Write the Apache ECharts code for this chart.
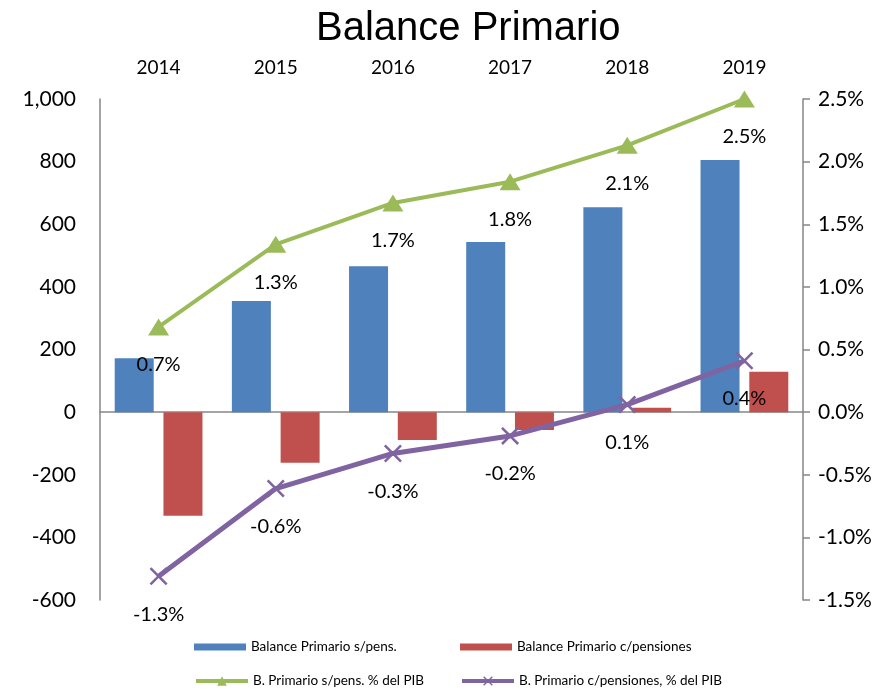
<!DOCTYPE html>
<html>
<head>
<meta charset="utf-8">
<script src="https://cdn.jsdelivr.net/npm/echarts@6/dist/echarts.min.js"></script>
<style>
  html, body { margin: 0; padding: 0; background: #fff; }
  #chart { width: 891px; height: 689px; }
</style>
</head>
<body>
<div id="chart"></div>
<script>
// data
const years = ['2014', '2015', '2016', '2017', '2018', '2019'];
const sinPens = [172, 355, 466, 543, 654, 805];
const conPens = [-331, -162, -89, -57, 14, 129];
const sinPensPib = [0.68, 1.34, 1.67, 1.84, 2.13, 2.5];
const conPensPib = [-1.31, -0.61, -0.33, -0.19, 0.06, 0.41];

const colorCodes = ['#4F81BD', '#C0504D', '#9BBB59', '#8064A2', '#868686'];
const font = 'Lato, "Open Sans", sans-serif';
const crossPath = 'path://M0,1 L1,0 L5,4 L9,0 L10,1 L6,5 L10,9 L9,10 L5,6 L1,10 L0,9 L4,5 Z';

const chart = echarts.init(document.getElementById('chart'));

const pctLabel = {
  show: true,
  position: 'inside',
  offset: [0, 38],
  color: '#000',
  fontFamily: font,
  fontSize: 20,
  formatter: (p) => p.value.toFixed(1) + '%'
};

const legendBase = {
  padding: 0,
  itemWidth: 52,
  itemHeight: 7,
  itemGap: 5,
  textStyle: { fontFamily: font, fontSize: 13.5, color: '#000' }
};

chart.setOption({
  animation: false,
  color: colorCodes,
  title: {
    text: 'Balance Primario',
    left: 316,
    top: 9,
    padding: 0,
    textStyle: {
      fontFamily: '"Liberation Sans", Arial, sans-serif',
      fontSize: 40,
      fontWeight: 'normal',
      color: '#000'
    }
  },
  legend: [
    Object.assign({}, legendBase, { left: 194, top: 640, data: [{ name: 'Balance Primario s/pens.', icon: 'rect' }] }),
    Object.assign({}, legendBase, { left: 460, top: 640, data: [{ name: 'Balance Primario c/pensiones', icon: 'rect' }] }),
    Object.assign({}, legendBase, { left: 194, top: 674, itemHeight: 12, lineStyle: { width: 4 }, data: ['B. Primario s/pens. % del PIB'] }),
    Object.assign({}, legendBase, { left: 460, top: 674, itemHeight: 12, lineStyle: { width: 4 }, data: ['B. Primario c/pensiones, % del PIB'] })
  ],
  grid: {
    left: 100,
    right: 88,
    top: 99,
    bottom: 89
  },
  xAxis: [
    {
      type: 'category',
      data: years,
      position: 'bottom',
      axisLine: { onZero: true, lineStyle: { color: colorCodes[4], width: 1.5 } },
      axisTick: { show: false },
      axisLabel: { show: false }
    },
    {
      type: 'category',
      data: years,
      position: 'top',
      axisLine: { show: false },
      axisTick: { show: false },
      axisLabel: { margin: 22, color: '#000', fontFamily: font, fontSize: 19 }
    }
  ],
  yAxis: [
    {
      type: 'value',
      min: -600,
      max: 1000,
      interval: 200,
      axisLine: { show: true, lineStyle: { color: colorCodes[4], width: 1.5 } },
      axisTick: { show: false },
      splitLine: { show: false },
      axisLabel: {
        margin: 24,
        color: '#000',
        fontFamily: font,
        fontSize: 21,
        formatter: (v) => v.toLocaleString('en-US')
      }
    },
    {
      type: 'value',
      min: -1.5,
      max: 2.5,
      interval: 0.5,
      axisLine: { show: true, lineStyle: { color: colorCodes[4], width: 1.5 } },
      axisTick: { show: true, length: 7, lineStyle: { color: colorCodes[4], width: 1.5 } },
      splitLine: { show: false },
      axisLabel: {
        margin: 15,
        color: '#000',
        fontFamily: font,
        fontSize: 21,
        formatter: (v) => v.toFixed(1) + '%'
      }
    }
  ],
  series: [
    {
      name: 'Balance Primario s/pens.',
      type: 'bar',
      data: sinPens,
      barWidth: 39,
      barGap: '25%',
      itemStyle: { color: colorCodes[0] }
    },
    {
      name: 'Balance Primario c/pensiones',
      type: 'bar',
      data: conPens,
      barWidth: 39,
      barGap: '25%',
      itemStyle: { color: colorCodes[1] }
    },
    {
      name: 'B. Primario s/pens. % del PIB',
      type: 'line',
      yAxisIndex: 1,
      data: sinPensPib,
      symbol: 'triangle',
      symbolSize: [21, 17],
      lineStyle: { color: colorCodes[2], width: 4 },
      itemStyle: { color: colorCodes[2] },
      label: pctLabel,
      z: 5
    },
    {
      name: 'B. Primario c/pensiones, % del PIB',
      type: 'line',
      yAxisIndex: 1,
      data: conPensPib,
      symbol: crossPath,
      symbolSize: 18,
      lineStyle: { color: colorCodes[3], width: 5 },
      itemStyle: { color: colorCodes[3] },
      label: pctLabel,
      z: 5
    }
  ]
});
</script>
</body>
</html>
